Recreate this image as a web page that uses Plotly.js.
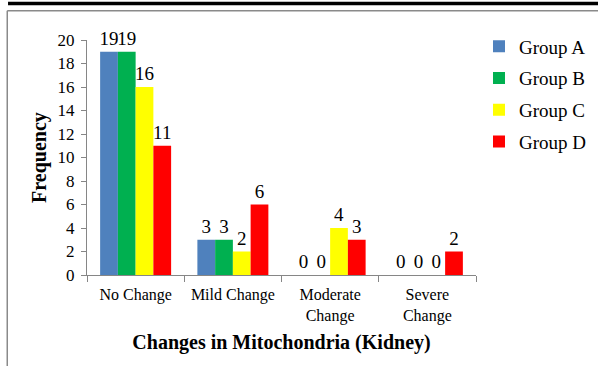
<!DOCTYPE html>
<html>
<head>
<meta charset="utf-8">
<script src="https://cdn.plot.ly/plotly-3.0.1.min.js"></script>
<style>
  html, body { margin: 0; padding: 0; background: #fff; }
  #chart { width: 598px; height: 366px; }
</style>
</head>
<body>
<div id="chart"></div>
<script>
// Mitochondrial changes in kidney tissue, frequency per group
const categories = ["No Change", "Mild Change", "Moderate<br>Change", "Severe<br>Change"];
const groupNames = ["Group A", "Group B", "Group C", "Group D"];
const groupA = [19, 3, 0, 0];
const groupB = [19, 3, 0, 0];
const groupC = [16, 2, 4, 0];
const groupD = [11, 6, 3, 2];
const groupColors = ["#4F81BD", "#00B050", "#FFFF00", "#FF0000"];
const yTicks = [0, 2, 4, 6, 8, 10, 12, 14, 16, 18, 20];

const serif = "Liberation Serif";
const axisGray = "#868686";

const series = [groupA, groupB, groupC, groupD];
const traces = series.map((vals, i) => ({
  type: "bar",
  name: groupNames[i],
  x: categories,
  y: vals,
  legendgroup: "g" + i,
  marker: { color: groupColors[i], line: { width: 0 } },
  text: vals.map(String),
  textposition: "outside",
  textfont: { family: serif, size: 19, color: "#000" },
  constraintext: "none",
  cliponaxis: false,
  hoverinfo: "x+y+name"
}));

const layout = {
  width: 598,
  height: 366,
  margin: { l: 87, r: 122, t: 40, b: 91 },
  paper_bgcolor: "#fff",
  plot_bgcolor: "#fff",
  barmode: "group",
  bargap: 0.27,
  bargroupgap: 0,
  font: { family: serif, color: "#000" },
  xaxis: {
    type: "category",
    showgrid: false,
    showline: true,
    linecolor: axisGray,
    linewidth: 1,
    ticks: "outside",
    tickson: "boundaries",
    ticklen: 6,
    tickcolor: axisGray,
    ticklabelstandoff: 5,
    tickfont: { family: serif, size: 16, color: "#000" },
    title: {
      text: "<b>Changes in Mitochondria (Kidney)</b>",
      font: { family: serif, size: 20, color: "#000" },
      standoff: 10
    },
    automargin: false
  },
  yaxis: {
    range: [0, 20],
    tickvals: yTicks,
    showgrid: false,
    zeroline: false,
    showline: true,
    linecolor: axisGray,
    linewidth: 1,
    ticks: "outside",
    ticklen: 5,
    tickcolor: axisGray,
    ticklabelstandoff: 3,
    tickfont: { family: serif, size: 17, color: "#000" },
    title: {
      text: "<b>Frequency</b>",
      font: { family: serif, size: 20, color: "#000" },
      standoff: 5
    },
    automargin: false
  },
  legend: {
    xref: "container",
    yref: "container",
    x: 0.801,
    y: 0.925,
    xanchor: "left",
    yanchor: "top",
    font: { family: serif, size: 19, color: "#000" },
    traceorder: "grouped",
    tracegroupgap: 4,
    itemwidth: 30,
    bgcolor: "rgba(0,0,0,0)"
  },
  showlegend: true,
  shapes: [
    // heavy rule across the top
    { type: "line", xref: "paper", yref: "paper", x0: -0.203, x1: 1.4, y0: 1.155, y1: 1.155,
      line: { color: "#000", width: 3.5 } },
    // thin frame: top and left edges
    { type: "line", xref: "paper", yref: "paper", x0: -0.205, x1: 1.4, y0: 1.125, y1: 1.125,
      line: { color: "#8a8a8a", width: 1.5 } },
    { type: "line", xref: "paper", yref: "paper", x0: -0.205, x1: -0.205, y0: 1.125, y1: -0.4,
      line: { color: "#8a8a8a", width: 1.5 } }
  ]
};

Plotly.newPlot("chart", traces, layout, { displayModeBar: false, staticPlot: true });
</script>
</body>
</html>
